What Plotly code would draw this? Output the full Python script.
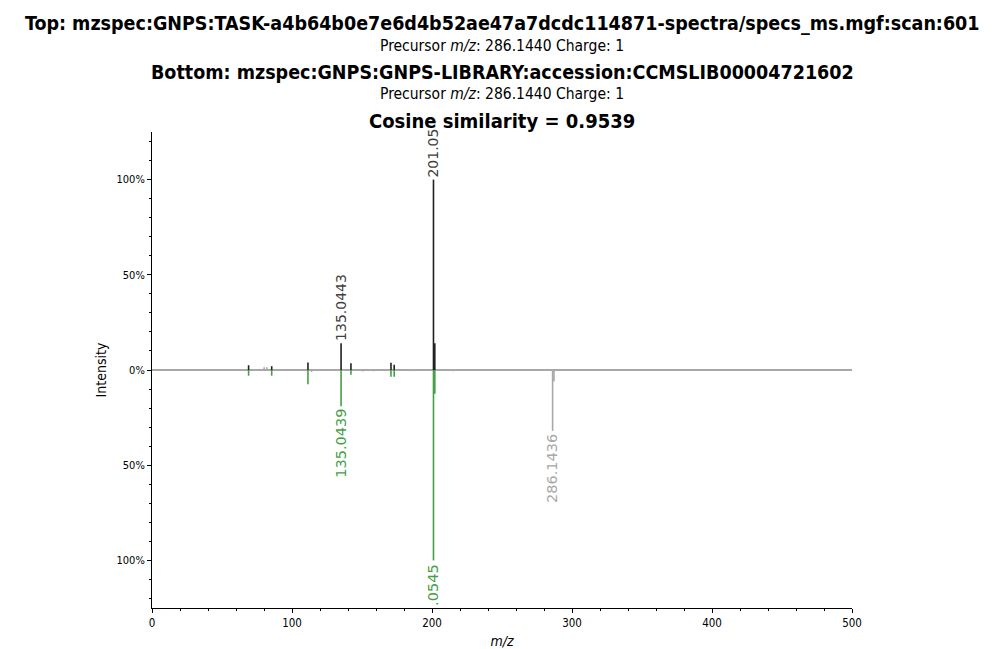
import plotly.graph_objects as go

# ---- data ----
top_mz = [69.0, 80.1, 82.0, 85.5, 111.4, 135.0443, 142.1, 170.7, 173.0, 201.0545, 202.0]
top_int = [0.025, 0.015, 0.015, 0.02, 0.04, 0.14, 0.035, 0.038, 0.028, 1.0, 0.14]
top_matched = [True, False, False, True, True, True, True, True, True, True, True]

bot_mz = [69.0, 85.5, 111.4, 114.0, 135.0439, 142.1, 150.5, 158.5, 170.7, 173.0, 184.8,
          201.0545, 202.0, 215.0, 286.1436, 287.1]
bot_int = [0.03, 0.03, 0.075, 0.01, 0.19, 0.025, 0.008, 0.006, 0.035, 0.035, 0.006,
           1.0, 0.125, 0.006, 0.32, 0.06]
bot_matched = [True, True, True, False, True, True, False, False, True, True, False,
               True, True, False, False, False]

# labels: (mz, intensity, text, side, kind)
labels = [
    (135.0443, 0.14, "135.0443", "top", "matched"),
    (201.0545, 1.0, "201.05", "top", "matched"),
    (135.0439, 0.19, "135.0439", "bottom", "matched"),
    (201.0545, 1.0, ".0545", "bottom", "matched"),
    (286.1436, 0.32, "286.1436", "bottom", "unmatched"),
]

titles = [
    "Top: mzspec:GNPS:TASK-a4b64b0e7e6d4b52ae47a7dcdc114871-spectra/specs_ms.mgf:scan:601",
    "Bottom: mzspec:GNPS:GNPS-LIBRARY:accession:CCMSLIB00004721602",
]
precursor_text = "Precursor <i>m/z</i>: 286.1440 Charge: 1"
cosine_text = "Cosine similarity = 0.9539"

y_tickvals = [-1.0, -0.5, 0.0, 0.5, 1.0]
y_ticktext = ["100%", "50%", "0%", "50%", "100%"]

# ---- style ----
C_TOP = "#212121"
C_TOP_LBL = "#404040"
C_GREEN = "#44a044"
C_GRAY = "#a8a8a8"
FONT = "DejaVu Sans"
FONT_C = "DejaVu Sans Condensed, DejaVu Sans"

W, H = 995, 649
ML, MR, MT, MB = 152, 143, 132, 41


def seg(mzs, ints, mask, sign, want):
    xs, ys = [], []
    for m, i, k in zip(mzs, ints, mask):
        if k == want:
            xs += [m, m, None]
            ys += [0, sign * i, None]
    return xs, ys


fig = go.Figure()

# baseline
fig.add_trace(go.Scatter(x=[0, 500], y=[0, 0], mode="lines",
                         line=dict(color=C_GRAY, width=2), hoverinfo="skip", showlegend=False))

for mzs, ints, mask, sign, cm in [
    (top_mz, top_int, top_matched, 1, C_TOP),
    (bot_mz, bot_int, bot_matched, -1, C_GREEN),
]:
    xs, ys = seg(mzs, ints, mask, sign, False)
    fig.add_trace(go.Scatter(x=xs, y=ys, mode="lines", line=dict(color=C_GRAY, width=1.6),
                             showlegend=False, hoverinfo="skip"))
    xs, ys = seg(mzs, ints, mask, sign, True)
    fig.add_trace(go.Scatter(x=xs, y=ys, mode="lines", line=dict(color=cm, width=1.6),
                             showlegend=False, hoverinfo="skip"))

annotations = []
for mz, inten, txt, side, kind in labels:
    if kind == "unmatched":
        col = C_GRAY
    elif side == "top":
        col = C_TOP_LBL
    else:
        col = C_GREEN
    if side == "top":
        annotations.append(dict(x=mz, y=inten, xref="x", yref="y", text=txt, showarrow=False,
                                textangle=-90, xanchor="center", yanchor="bottom", yshift=0,
                                font=dict(family=FONT, size=14, color=col)))
    else:
        annotations.append(dict(x=mz, y=-inten, xref="x", yref="y", text=txt, showarrow=False,
                                textangle=-90, xanchor="center", yanchor="top", yshift=-1,
                                font=dict(family=FONT, size=14.5, color=col)))

plot_h = H - MT - MB


def py(p):
    return (H - MB - p) / plot_h


title_rows = [
    (titles[0], 24, 19.5, True),
    (precursor_text, 46, 15.5, False),
    (titles[1], 72, 19.5, True),
    (precursor_text, 94, 15.5, False),
    (cosine_text, 121, 20, True),
]
for txt, p, sz, bold in title_rows:
    annotations.append(dict(x=0.5, y=py(p), xref="paper", yref="paper",
                            text=f"<b>{txt}</b>" if bold else txt, showarrow=False,
                            xanchor="center", yanchor="middle",
                            font=dict(family=FONT_C, size=sz, color="black")))

fig.update_layout(
    width=W, height=H,
    margin=dict(l=ML, r=MR, t=MT, b=MB, autoexpand=False),
    plot_bgcolor="white", paper_bgcolor="white",
    annotations=annotations,
    showlegend=False,
    xaxis=dict(range=[0, 500], showline=True, linecolor="black", linewidth=1,
               ticks="outside", ticklen=4, tickcolor="black", dtick=100, tick0=0,
               showgrid=False, zeroline=False, automargin=False,
               minor=dict(ticks="outside", ticklen=2, dtick=20, tick0=0, tickcolor="black", showgrid=False),
               tickfont=dict(family=FONT_C, size=11.5, color="black"),
               title=dict(text="<i>m/z</i>", font=dict(family=FONT_C, size=14, color="black"), standoff=13)),
    yaxis=dict(range=[-1.25, 1.25], showline=True, linecolor="black", linewidth=1,
               ticks="outside", ticklen=4, tickcolor="black",
               tickvals=y_tickvals, ticktext=y_ticktext,
               showgrid=False, zeroline=False, automargin=False,
               minor=dict(ticks="outside", ticklen=2, dtick=0.1, tick0=0, tickcolor="black", showgrid=False),
               tickfont=dict(family=FONT_C, size=11, color="black"),
               title=dict(text="Intensity", font=dict(family=FONT_C, size=14, color="black"), standoff=6)),
)

fig.write_html("out.html")
